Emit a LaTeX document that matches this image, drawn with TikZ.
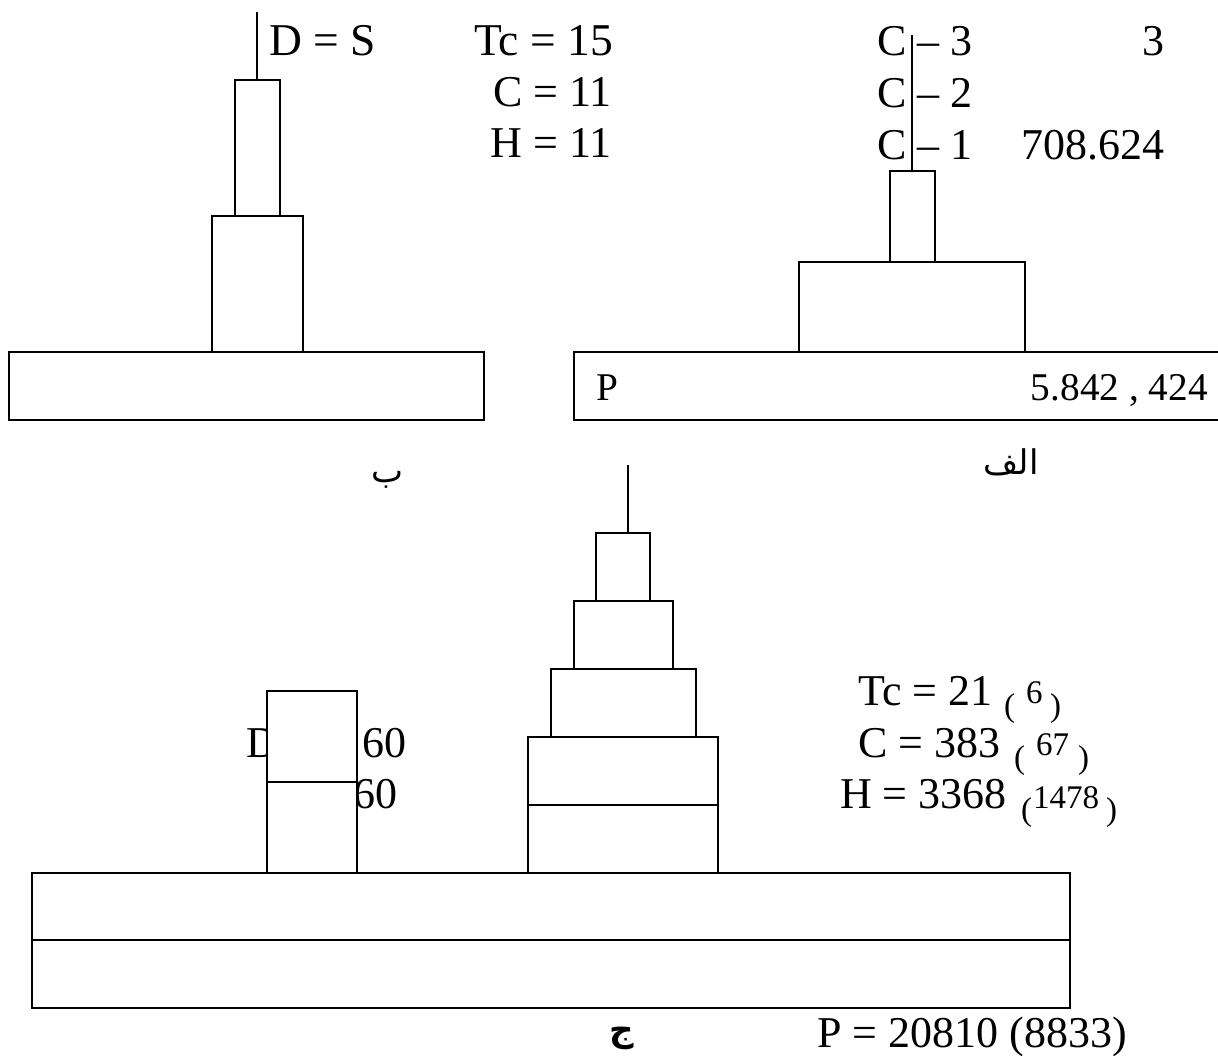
\documentclass[tikz,border=0pt]{standalone}
\usepackage{fontspec}
\setmainfont{Liberation Serif}
\newfontfamily\arabicfont[Script=Arabic]{DejaVu Sans}
\TeXXeTstate=1
\tikzset{
  box/.style={draw=black,fill=white,line width=1.3pt},
  wire/.style={draw=black,line width=1.3pt},
  big/.style={inner sep=0pt,font=\fontsize{44}{44}\selectfont},
  wider/.style={inner sep=0pt,font=\fontsize{45.5}{45.5}\selectfont},
  small/.style={inner sep=0pt,font=\fontsize{39.3}{39.3}\selectfont},
  tiny/.style={inner sep=0pt,font=\fontsize{33}{33}\selectfont},
  arab/.style={inner sep=0pt,anchor=base,font=\arabicfont\fontsize{34}{34}\selectfont},
  lft/.style={anchor=base west},
  rgt/.style={anchor=base east}
}
\begin{document}
\begin{tikzpicture}[x=1pt,y=-1pt]
\useasboundingbox (0,0) rectangle (1218,1055);
\clip (0,0) rectangle (1218,1055);
% upper left
\node[wider,lft] (ds) at (269,55) {D = S};
\node[wider,rgt] (tc1) at (613,55) {Tc = 15};
\node[big,rgt] (c1) at (612,106) {C = 11};
\node[big,rgt] (h1) at (612,157) {H = 11};
\draw[wire] (257,12) -- (257,80);
\draw[box] (235,80) rectangle (280,216);
\draw[box] (212,216) rectangle (303,352);
\draw[box] (9,352) rectangle (484,420);
% upper right
\node[big,lft] (c3) at (877,55) {C};
\node[big,lft] (c2) at (877,107) {C};
\node[big,lft] (cc1) at (877,159) {C};
\node[big,lft] (d3) at (917,55) {– 3};
\node[big,lft] (d2) at (917,107) {– 2};
\node[big,lft] (d1) at (917,159) {– 1};
\node[big,rgt] (n3) at (1165,55) {3};
\node[big,rgt] (n7) at (1165,159) {708.624};
\draw[wire] (912,35) -- (912,171);
\draw[box] (890,171) rectangle (935,262);
\draw[box] (799,262) rectangle (1025,352);
\draw[box] (574,420) -- (574,352) -- (1225,352) -- (1225,420) -- cycle;
\node[small,lft] (p1) at (596,400) {P};
\node[small,rgt] (p2) at (1208,400) {5.842 , 424};
% captions
\node[arab] (lb) at (387,482) {\beginR ب\endR};
\node[arab] (la) at (1011,474) {\beginR الف\endR};
\node[arab,font=\arabicfont\bfseries\fontsize{34}{34}\selectfont] (lc) at (622,1041) {\beginR ج\endR};
% lower small tower
\node[big,lft] (dd) at (246,757) {D};
\node[big,lft] (s1) at (362,757) {60};
\node[big,rgt] (s2) at (398,808) {60};
\draw[box] (267,691) rectangle (357,873);
\draw[wire] (267,782) -- (357,782);
% lower tower
\draw[wire] (628,465) -- (628,533);
\draw[box] (596,533) rectangle (650,601);
\draw[box] (574,601) rectangle (673,669);
\draw[box] (551,669) rectangle (696,737);
\draw[box] (528,737) rectangle (718,873);
\draw[wire] (528,805) -- (718,805);
\draw[box] (32,873) rectangle (1070,1008);
\draw[wire] (32,940) -- (1070,940);
% lower texts
\node[big,lft] (tc2) at (858,705) {Tc = 21};
\node[tiny,lft] (po1) at (1004,716) {(};
\node[tiny,lft] (v1) at (1026,703) {6};
\node[tiny,lft] (pc1) at (1050,716) {)};
\node[big,lft] (c4) at (858,757) {C = 383};
\node[tiny,lft] (po2) at (1014,768) {(};
\node[tiny,lft] (v2) at (1036,755) {67};
\node[tiny,lft] (pc2) at (1078,768) {)};
\node[big,lft] (h4) at (840,808) {H = 3368};
\node[tiny,lft] (po3) at (1021,820) {(};
\node[tiny,lft] (v3) at (1033,808) {1478};
\node[tiny,lft] (pc3) at (1106,820) {)};
\node[big,lft] (p4) at (817,1047) {P = 20810 (8833)};
\end{tikzpicture}
\end{document}
